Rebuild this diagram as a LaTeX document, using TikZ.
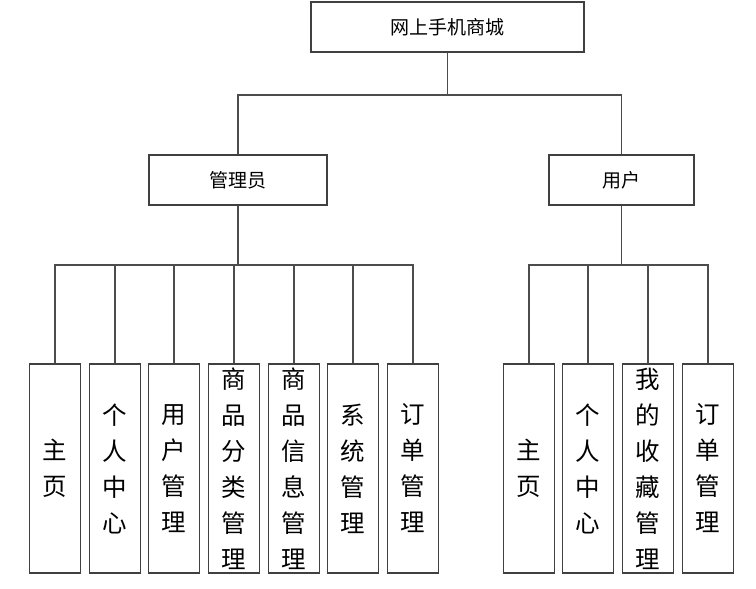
\documentclass[tikz,border=0pt]{standalone}
\usepackage{fontspec}
\newfontfamily\cjk{Noto Sans CJK SC}
\tikzset{every picture/.style={line width=1.2pt}}
\tikzset{
  headbox/.style={draw=black!75, fill=white, minimum height=50pt, inner sep=0pt, font=\cjk\fontsize{19}{22}\selectfont},
  leafbox/.style={draw=black!75, fill=white, minimum width=51pt, minimum height=209pt, inner sep=0pt, align=center, font=\cjk\fontsize{24.5}{36}\selectfont},
  link/.style={draw=black!70}
}

\begin{document}
\begin{tikzpicture}[x=1pt,y=1pt,yscale=-1,xscale=1]
    \useasboundingbox (0,0) rectangle (756,589);

    %Top level
    \node[headbox, minimum width=273pt] (shop) at (447.5,27) {网上手机商城};
    \node[headbox, minimum width=178pt] (admin) at (238,180) {管理员};
    \node[headbox, minimum width=145pt] (user) at (621.5,180) {用户};

    %Joints
    \coordinate (jtop) at (447.5,95);
    \coordinate (jadmin) at (238,265);
    \coordinate (juser) at (621.5,265);

    \draw[link] (shop) -- (jtop) -| (admin);
    \draw[link] (jtop) -| (user);

    %Admin modules
    \foreach \i/\x/\txt in {1/55/主\\页, 2/115/个\\人\\中\\心, 3/174/用\\户\\管\\理,
        4/234/商\\品\\分\\类\\管\\理, 5/294/商\\品\\信\\息\\管\\理, 6/353/系\\统\\管\\理, 7/413/订\\单\\管\\理}
    {
      \node[leafbox] (a\i) at (\x,468.5) {\txt};
      \draw[link] (admin) -- (jadmin) -| (a\i);
    }

    %User modules
    \foreach \i/\x/\txt in {1/529/主\\页, 2/588/个\\人\\中\\心, 3/648/我\\的\\收\\藏\\管\\理, 4/708/订\\单\\管\\理}
    {
      \node[leafbox] (u\i) at (\x,468.5) {\txt};
      \draw[link] (user) -- (juser) -| (u\i);
    }

\end{tikzpicture}
\end{document}
